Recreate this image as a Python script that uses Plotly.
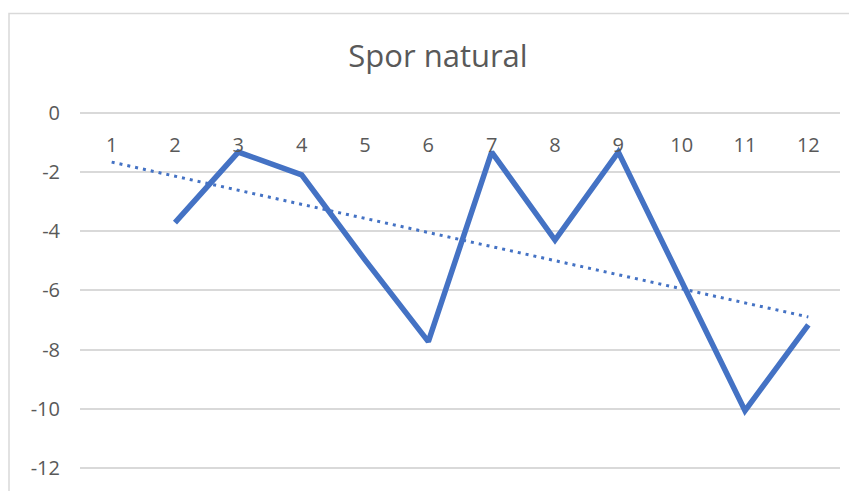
import numpy as np
import plotly.graph_objects as go

categories = [1, 2, 3, 4, 5, 6, 7, 8, 9, 10, 11, 12]
values = [None, -3.71, -1.33, -2.10, -4.97, -7.73, -1.33, -4.30, -1.33, -5.70, -10.06, -7.16]
y_ticks = [0, -2, -4, -6, -8, -10, -12]
title_text = "Spor natural"

# Linear trendline (fit over the available points, drawn across all categories)
xs = np.array([c for c, v in zip(categories, values) if v is not None], dtype=float)
ys = np.array([v for v in values if v is not None], dtype=float)
slope, intercept = np.polyfit(xs, ys, 1)
trend_x = [categories[0], categories[-1]]
trend_y = [slope * x + intercept for x in trend_x]

BLUE = "#4472C4"
GRID = "#d9d9d9"
TXT = "#595959"
FONT = "Open Sans"

# the page body has an 8px margin, so figure coords = page coords - 8
OFF = 8
W, H = 857 - OFF, 491 - OFF
pad_bot = 0.06
pad_top = 1.0          # keep the 0 line away from the plot edge
unit = 29.63
top_fig = 112.7 - pad_top * unit - OFF
bot_fig = 468.3 + pad_bot * unit - OFF
plot_h = bot_fig - top_fig
left_fig = 80 - OFF
right_fig = 840 - OFF
plot_w = right_fig - left_fig
x_range = [categories[0] - 0.5, categories[-1] + 0.5]
y_range = [y_ticks[-1] - pad_bot, y_ticks[0] + pad_top]
zero_pos = (y_ticks[0] - y_range[0]) / (y_range[1] - y_range[0])

fig = go.Figure()
# horizontal category axis line at y = 0
fig.add_trace(go.Scatter(x=x_range, y=[y_ticks[0], y_ticks[0]], mode="lines",
                         line=dict(color=GRID, width=1.5),
                         showlegend=False, hoverinfo="skip"))
fig.add_trace(go.Scatter(x=categories, y=values, mode="lines",
                         line=dict(color=BLUE, width=5.5), connectgaps=False,
                         showlegend=False, hoverinfo="skip"))
fig.add_trace(go.Scatter(x=trend_x, y=trend_y, mode="lines",
                         line=dict(color=BLUE, width=3, dash="3px,5px"),
                         showlegend=False, hoverinfo="skip"))

fig.update_layout(
    width=W, height=H,
    margin=dict(l=left_fig, r=W - right_fig, t=top_fig, b=H - bot_fig, autoexpand=False),
    paper_bgcolor="white", plot_bgcolor="rgba(0,0,0,0)",
    font=dict(family=FONT, color=TXT, size=20),
    title=dict(text=title_text, x=(438 - OFF) / W, xanchor="center", xref="container",
               y=1 - (56 - OFF) / H, yanchor="middle", yref="container",
               font=dict(family=FONT, size=31, color=TXT)),
    xaxis=dict(range=x_range, tickmode="array", tickvals=categories,
               ticktext=[str(c) for c in categories], automargin=False,
               anchor="free", position=zero_pos, side="bottom", ticklabelstandoff=18,
               showgrid=False, zeroline=False, showline=False, ticks="",
               tickfont=dict(family=FONT, size=20, color=TXT)),
    yaxis=dict(range=y_range, tickmode="array", tickvals=y_ticks,
               ticktext=[str(t) for t in y_ticks], automargin=False,
               showgrid=True, gridcolor=GRID, gridwidth=1.5,
               zeroline=False, showline=False, ticks="",
               ticklabelstandoff=19,
               tickfont=dict(family=FONT, size=20, color=TXT)),
    shapes=[
        dict(type="rect", xref="paper", yref="paper",
             x0=(1 - left_fig) / plot_w, x1=1.2, y0=-0.3,
             y1=1 + (top_fig - (13.5 - OFF)) / plot_h,
             line=dict(color=GRID, width=1.5), fillcolor="rgba(0,0,0,0)",
             layer="below"),
    ],
)

fig.write_html("out.html")
